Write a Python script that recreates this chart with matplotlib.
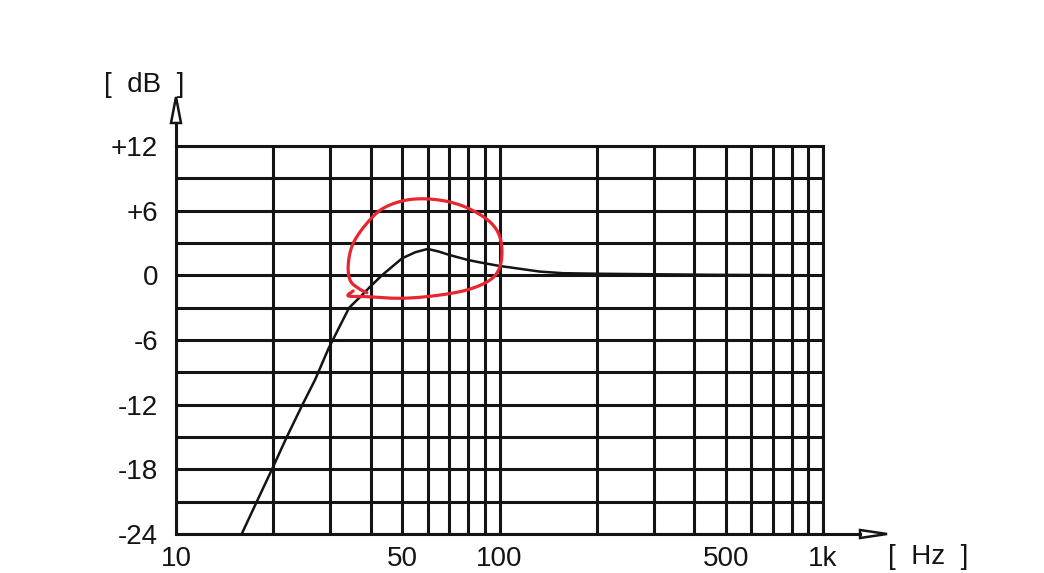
import numpy as np
import matplotlib
matplotlib.use("Agg")
import matplotlib.pyplot as plt
from matplotlib.patches import Polygon

# ---- data ----
freq_hz = [15.96, 17.77, 19.8, 22.0, 24.6, 26.9, 29.6, 32.1, 34.3, 37.1, 40, 43.3,
           50, 55, 60, 65, 70, 80, 87, 100, 110, 133, 157, 200, 300, 458, 700, 1000]
level_db = [-24, -21, -18, -15, -12, -9.7, -6.8, -4.7, -3.0, -2.0, -1.0, 0.0,
            1.58, 2.15, 2.45, 2.2, 1.89, 1.42, 1.2, 0.87, 0.7, 0.35, 0.2, 0.15, 0.1, 0.05, 0.02, 0.0]

# hand-drawn red loop (annotation) in (Hz, dB)
loop_hz = [35.3, 34.1, 38.9, 49.2, 62.4, 79.2, 93.5, 100.3, 101.6, 98, 89.1, 75.5,
           62.4, 51.7, 43.7, 38.9, 35.3, 34.1, 34.5, 36.6, 38.9]
loop_db = [-1.45, -1.91, -1.98, -2.13, -1.91, -1.36, -0.43, 0.80, 2.66, 4.21, 5.44, 6.53,
           7.05, 6.99, 6.22, 4.83, 2.97, 1.12, -0.43, -1.2, -1.61]

x_grid = [10, 20, 30, 40, 50, 60, 70, 80, 90, 100, 200, 300, 400, 500, 600, 700, 800, 900, 1000]
x_labels = {10: "10", 50: "50", 100: "100", 500: "500", 1000: "1k"}
y_grid = list(range(-24, 13, 3))
y_labels = {12: "+12", 6: "+6", 0: "0", -6: "-6", -12: "-12", -18: "-18", -24: "-24"}

FONT = ["Liberation Sans", "DejaVu Sans"]
FS = 20
INK = "#141414"

fig = plt.figure(figsize=(10.44, 5.73), dpi=100)
ax = fig.add_axes([176 / 1044, 39 / 573, 647 / 1044, 388 / 573])
ax.set_xscale("log")
ax.set_xlim(10, 1000)
ax.set_ylim(-24, 12)

ax.set_xticks(x_grid)
ax.set_xticklabels([x_labels.get(v, "") for v in x_grid], fontfamily=FONT, fontsize=FS)
ax.xaxis.set_minor_locator(matplotlib.ticker.NullLocator())
ax.set_yticks(y_grid)
ax.set_yticklabels([y_labels.get(v, "") for v in y_grid], fontfamily=FONT, fontsize=FS)
ax.tick_params(axis="both", length=0, colors=INK)
ax.tick_params(axis="x", pad=9)
ax.tick_params(axis="y", pad=13)
ax.grid(True, which="major", color=INK, lw=2.2)
for s in ax.spines.values():
    s.set_color(INK)
    s.set_linewidth(2.2)

ax.plot(freq_hz, level_db, color=INK, lw=1.8, zorder=3)


def smooth_path(xs, ys, n=12):
    p = np.column_stack([xs, ys])
    out = []
    m = len(p)
    for i in range(m - 1):
        p0 = p[max(i - 1, 0)]
        p1 = p[i]
        p2 = p[i + 1]
        p3 = p[min(i + 2, m - 1)]
        for t in np.linspace(0, 1, n, endpoint=False):
            t2, t3 = t * t, t * t * t
            out.append(0.5 * ((2 * p1) + (-p0 + p2) * t + (2 * p0 - 5 * p1 + 4 * p2 - p3) * t2
                              + (-p0 + 3 * p1 - 3 * p2 + p3) * t3))
    out.append(p[-1])
    return np.array(out)


lx = np.log10(loop_hz) * 32.35  # roughly equal pixel units on both axes
ly = np.array(loop_db) * 1.078
sm = smooth_path(lx, ly)
ax.plot(10 ** (sm[:, 0] / 32.35), sm[:, 1] / 1.078, color="#e8262f", lw=2.3,
        zorder=4, clip_on=False, solid_capstyle="round")

# axis arrows
ax.plot([0, 0], [1.0, 1.0593], transform=ax.transAxes, clip_on=False, color=INK, lw=2.2)
hw = 5 / 647
ax.add_patch(Polygon([(-hw, 1.0593), (hw, 1.0593), (0, 1.1263)], closed=True,
                     transform=ax.transAxes, clip_on=False, fc="white", ec=INK, lw=1.8))
ax.plot([1.0, 1.0572], [0, 0], transform=ax.transAxes, clip_on=False, color=INK, lw=2.2)
hh = 4 / 388
ax.add_patch(Polygon([(1.0572, -hh), (1.0572, hh), (1.099, 0)], closed=True,
                     transform=ax.transAxes, clip_on=False, fc="white", ec=INK, lw=1.8))

fig.text(144 / 1044, 1 - 85 / 573, "[  dB  ]", fontfamily=FONT, fontsize=FS,
         ha="center", va="center", color=INK)
fig.text(928 / 1044, 1 - 557 / 573, "[  Hz  ]", fontfamily=FONT, fontsize=FS,
         ha="center", va="center", color=INK)

fig.savefig("out.png", dpi=100, facecolor="white")
